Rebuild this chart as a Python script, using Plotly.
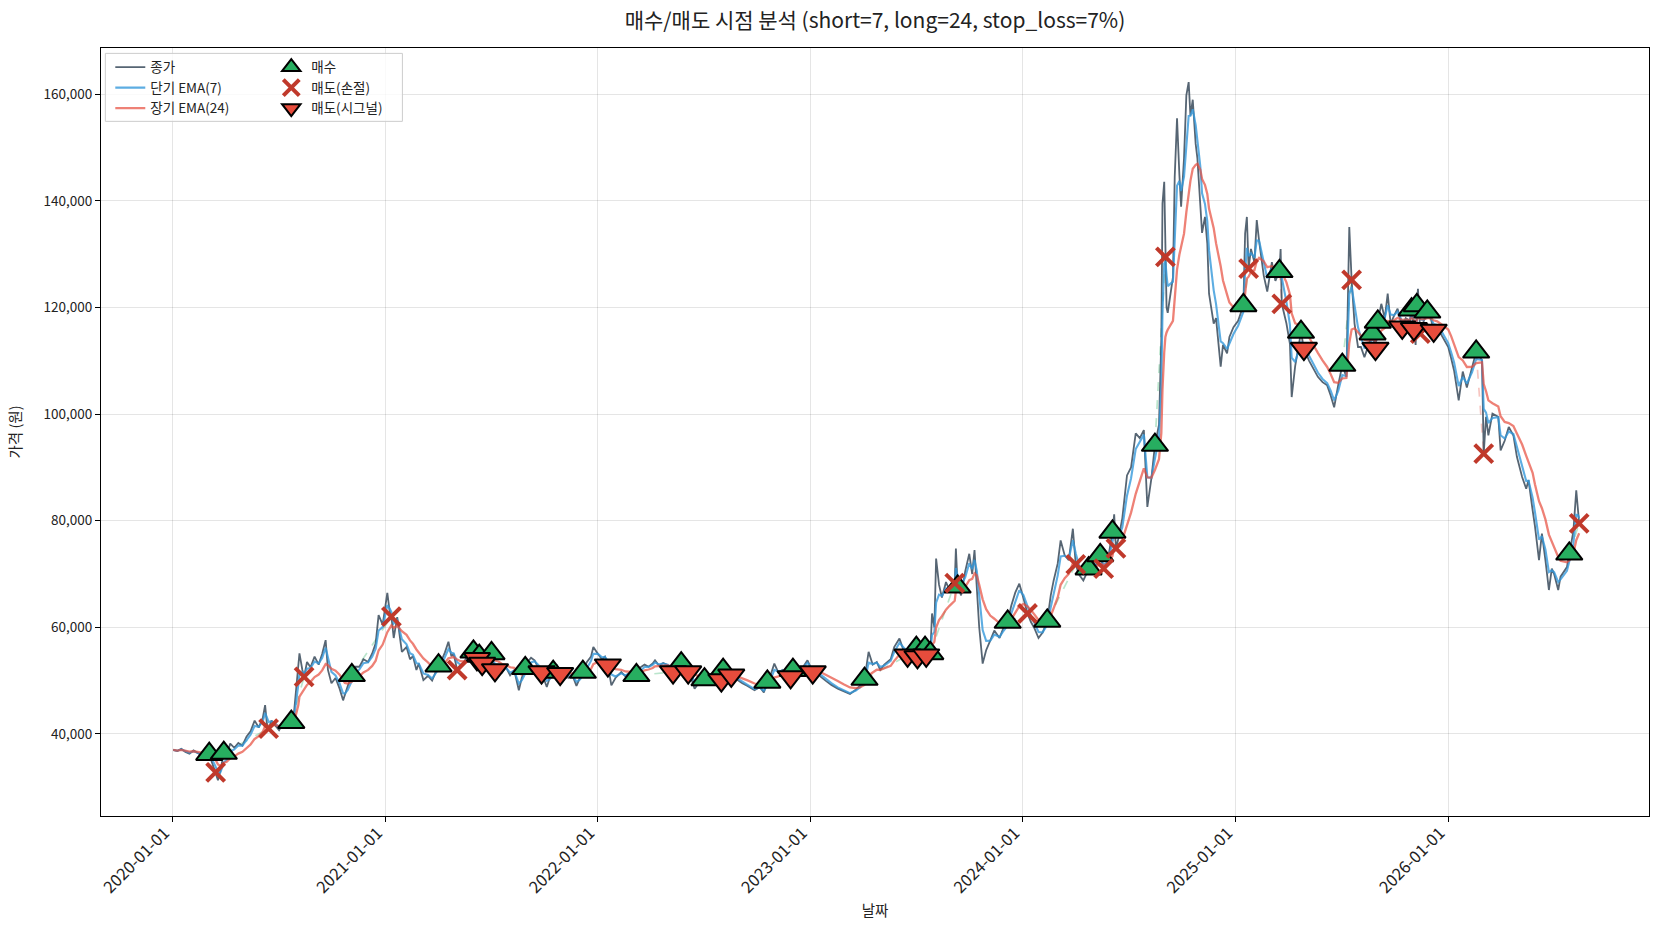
import pandas as pd
import plotly.graph_objects as go

# ---------------- data ----------------
close_dates = [
    "2020-01-02","2020-01-09","2020-01-16","2020-01-23","2020-01-30","2020-02-06","2020-02-13","2020-02-20",
    "2020-02-27","2020-03-04","2020-03-09","2020-03-15","2020-03-19","2020-03-23","2020-03-26","2020-03-29",
    "2020-04-03","2020-04-09","2020-04-16","2020-04-23","2020-04-30","2020-05-07","2020-05-14","2020-05-21",
    "2020-05-28","2020-06-04","2020-06-08","2020-06-11","2020-06-14","2020-06-19","2020-06-26","2020-07-02",
    "2020-07-09","2020-07-16","2020-07-23","2020-07-28","2020-07-31","2020-08-04","2020-08-06","2020-08-11",
    "2020-08-14","2020-08-19","2020-08-25","2020-09-01","2020-09-08","2020-09-14","2020-09-20","2020-09-24",
    "2020-09-30","2020-10-07","2020-10-14","2020-10-20","2020-10-23","2020-10-28","2020-11-04","2020-11-10",
    "2020-11-17","2020-11-24","2020-12-02","2020-12-09","2020-12-15","2020-12-20","2020-12-27","2021-01-04",
    "2021-01-08","2021-01-11","2021-01-15","2021-01-21","2021-01-29","2021-02-06","2021-02-12","2021-02-17",
    "2021-02-23","2021-02-27","2021-03-07","2021-03-15","2021-03-22","2021-03-28","2021-04-02","2021-04-08",
    "2021-04-13","2021-04-19","2021-04-24","2021-04-28","2021-05-04","2021-05-10","2021-05-16","2021-05-23",
    "2021-06-01","2021-06-07","2021-06-11","2021-06-16","2021-06-22","2021-07-02","2021-07-08","2021-07-14",
    "2021-07-20","2021-07-27","2021-08-03","2021-08-10","2021-08-18","2021-08-23","2021-08-29","2021-09-02",
    "2021-09-08","2021-09-14","2021-09-20","2021-09-26","2021-10-05","2021-10-10","2021-10-16","2021-10-22",
    "2021-10-28","2021-11-04","2021-11-11","2021-11-18","2021-11-25","2021-12-01","2021-12-06","2021-12-13",
    "2021-12-20","2021-12-24","2022-01-01","2022-01-08","2022-01-13","2022-01-18","2022-01-24","2022-01-31",
    "2022-02-10","2022-02-17","2022-02-24","2022-03-02","2022-03-08","2022-03-15","2022-03-22","2022-03-29",
    "2022-04-05","2022-04-09","2022-04-16","2022-04-23","2022-05-01","2022-05-10","2022-05-17","2022-05-24",
    "2022-05-30","2022-06-05","2022-06-10","2022-06-16","2022-06-23","2022-07-03","2022-07-10","2022-07-18",
    "2022-07-25","2022-08-01","2022-08-04","2022-08-10","2022-08-18","2022-08-28","2022-09-06","2022-09-15",
    "2022-09-27","2022-10-06","2022-10-13","2022-10-19","2022-10-26","2022-10-31","2022-11-07","2022-11-14",
    "2022-11-21","2022-11-28","2022-12-02","2022-12-09","2022-12-16","2022-12-27","2023-01-05","2023-01-12",
    "2023-01-19","2023-01-27","2023-02-06","2023-02-17","2023-02-27","2023-03-10","2023-03-20","2023-03-27",
    "2023-04-04","2023-04-11","2023-04-18","2023-04-25","2023-05-01","2023-05-08","2023-05-19","2023-05-25",
    "2023-06-03","2023-06-09","2023-06-17","2023-06-24","2023-07-02","2023-07-04","2023-07-10","2023-07-17",
    "2023-07-19","2023-07-26","2023-07-29","2023-08-02","2023-08-05","2023-08-10","2023-08-15","2023-08-22",
    "2023-08-28","2023-09-06","2023-09-08","2023-09-11","2023-09-17","2023-09-24","2023-10-01","2023-10-06",
    "2023-10-10","2023-10-14","2023-10-18","2023-10-24","2023-10-30","2023-11-06","2023-11-13","2023-11-22",
    "2023-11-29","2023-12-06","2023-12-12","2023-12-19","2023-12-26","2024-01-02","2024-01-09","2024-01-15",
    "2024-01-21","2024-01-28","2024-02-04","2024-02-12","2024-02-18","2024-02-23","2024-03-01","2024-03-06",
    "2024-03-13","2024-03-20","2024-03-27","2024-04-01","2024-04-06","2024-04-14","2024-04-23","2024-04-30",
    "2024-05-05","2024-05-13","2024-05-19","2024-05-26","2024-06-03","2024-06-06","2024-06-09","2024-06-14",
    "2024-06-20","2024-06-28","2024-07-05","2024-07-13","2024-07-20","2024-07-27","2024-08-02","2024-08-09",
    "2024-08-15","2024-08-22","2024-08-26","2024-08-28","2024-08-31","2024-09-02","2024-09-04","2024-09-06",
    "2024-09-15","2024-09-18","2024-09-22","2024-09-26","2024-09-29","2024-10-04","2024-10-08","2024-10-12",
    "2024-10-15","2024-10-19","2024-10-24","2024-10-27","2024-11-01","2024-11-04","2024-11-09","2024-11-13",
    "2024-11-16","2024-11-24","2024-11-28","2024-12-06","2024-12-10","2024-12-17","2024-12-21","2024-12-28",
    "2025-01-05","2025-01-14","2025-01-17","2025-01-20","2025-01-23","2025-01-27","2025-02-02","2025-02-06",
    "2025-02-10","2025-02-18","2025-02-24","2025-03-04","2025-03-10","2025-03-17","2025-03-19","2025-03-21",
    "2025-03-29","2025-04-04","2025-04-07","2025-04-13","2025-04-23","2025-04-28","2025-05-07","2025-05-14",
    "2025-05-22","2025-05-30","2025-06-07","2025-06-13","2025-06-19","2025-06-26","2025-07-03","2025-07-10",
    "2025-07-15","2025-07-19","2025-07-24","2025-07-30","2025-08-04","2025-08-10","2025-08-17","2025-08-24",
    "2025-08-29","2025-09-02","2025-09-08","2025-09-14","2025-09-19","2025-09-24","2025-09-30","2025-10-06",
    "2025-10-14","2025-10-20","2025-10-27","2025-10-30","2025-11-03","2025-11-06","2025-11-08","2025-11-10",
    "2025-11-14","2025-11-20","2025-11-26","2025-12-02","2025-12-07","2025-12-13","2025-12-19","2026-01-01",
    "2026-01-06","2026-01-11","2026-01-19","2026-01-26","2026-02-02","2026-02-11","2026-02-18","2026-02-28",
    "2026-03-03","2026-03-07","2026-03-11","2026-03-18","2026-03-28","2026-04-01","2026-04-08","2026-04-15",
    "2026-04-23","2026-04-29","2026-05-08","2026-05-15","2026-05-19","2026-05-26","2026-05-30","2026-06-06",
    "2026-06-11","2026-06-17","2026-06-23","2026-06-28","2026-07-02","2026-07-09","2026-07-13","2026-07-24",
    "2026-07-28","2026-08-04","2026-08-09","2026-08-12","2026-08-14",
]
close_values = [
    37000,36800,37200,36600,36300,36900,36400,36000,
    35500,36200,34500,32800,31300,33000,34800,36400,
    35800,38200,37400,38300,37800,39500,40500,42500,
    41200,43000,45400,42000,41000,42500,41500,40700,
    42000,41500,42200,44400,48000,53800,55100,52000,
    50700,53500,52500,54500,53000,55000,57600,52000,
    49500,50500,48500,46300,47500,49000,51000,52600,
    52600,54000,53500,55100,57000,62300,60500,66450,
    63000,62000,58000,61900,55400,56300,54000,54600,
    52000,53200,50100,50900,50000,51800,52900,54000,
    55300,57300,54600,55000,52000,52500,53400,55100,
    55400,54100,54600,53200,54000,55100,52000,53000,
    51500,52500,51000,52000,48200,50500,52300,53500,
    54300,53800,52500,51600,48800,50500,51600,53000,
    51300,52000,50500,51000,49000,50500,51600,53500,
    54500,56300,55000,54000,54500,52900,49100,50500,
    51600,50800,51500,50500,51000,52500,53000,52600,
    53200,53800,52800,53300,52900,51600,52500,53200,
    52500,51600,50500,48500,49500,50200,50800,51500,
    50800,50100,51950,51500,51000,50100,49500,49000,
    48200,48800,47800,49750,51500,53200,51500,52000,
    51200,50700,51950,52500,52000,53800,51600,51500,
    50700,50000,49200,48500,48000,47500,48300,49000,
    50300,55400,53000,53500,52000,53000,54000,56300,
    57900,56000,54800,55500,56100,54450,55500,56100,
    54760,55100,62600,60000,72900,68000,65600,68500,
    67000,68300,74800,67600,66000,70500,73800,70000,
    74500,68000,60100,53200,55700,57500,59400,58000,
    60000,61000,64000,66500,68200,65500,62600,61000,
    59800,58000,59000,61200,66000,68800,72000,76300,
    73500,72600,78500,71800,70000,68800,71000,72500,
    71500,73500,71000,72500,77900,81200,74800,77000,
    80500,88500,90000,96400,95500,97000,82600,88000,
    94200,98000,114000,139500,143600,129500,120000,119000,
    125700,144500,155500,145000,138900,148000,159800,162300,
    156000,159000,150700,148000,140000,134000,137000,132000,
    122600,117000,118000,108900,113000,111400,114500,116300,
    117500,120400,133900,137000,127300,131000,128500,136400,
    132500,126000,123000,128500,125000,126800,131000,120700,
    117000,113200,103200,109000,115400,112300,110000,108500,
    107000,106000,105400,103500,101300,105500,109200,107000,
    135100,125200,117000,112600,112600,110700,113000,115100,
    112300,117300,120700,118000,122600,117000,118500,119800,
    116300,118000,117500,119600,116000,113000,120400,123500,
    115100,117500,119200,118000,115700,116500,115100,112600,
    110500,108200,102600,108000,105000,108900,111700,110100,
    92600,99500,96000,100100,99500,93200,95000,97600,
    96000,92000,88200,86000,87600,82000,79000,72600,
    77600,72600,67000,71000,70000,67000,69500,71300,
    73800,78000,85700,81000,79500,
]

buy_dates = [
    "2020-03-04","2020-03-29","2020-07-23","2020-11-04","2021-04-02","2021-06-01","2021-06-11","2021-07-02",
    "2021-08-29","2021-10-16","2021-12-06","2022-03-08","2022-05-24","2022-07-03","2022-08-04","2022-10-19",
    "2022-12-02","2023-04-04","2023-07-02","2023-07-17","2023-07-26","2023-09-11","2023-12-06","2024-02-12",
    "2024-04-23","2024-05-13","2024-06-03","2024-08-15","2025-01-14","2025-03-17","2025-04-23","2025-07-03",
    "2025-08-24","2025-09-02","2025-10-30","2025-11-08","2025-11-26","2026-02-18","2026-07-28",
]
buy_prices = [
    36200,36400,42200,51000,52800,55400,54600,55100,
    52300,51600,51600,51000,53200,50200,51950,49750,
    51950,50300,56100,56100,55100,67600,61000,61200,
    71000,73500,77900,94200,120400,126800,115400,109200,
    115100,117300,119600,120400,119200,111700,73800,
]

stop_dates = [
    "2020-03-15","2020-06-14","2020-08-14","2021-01-11","2021-05-04","2023-09-06","2024-01-09","2024-04-01",
    "2024-05-19","2024-06-09","2024-09-02","2025-01-23","2025-03-21","2025-07-19","2025-11-14","2026-03-03",
    "2026-08-14",
]
stop_prices = [
    32800,41000,50700,62000,52000,68300,62600,71800,
    71000,74800,129500,127300,120700,125200,115100,92600,
    79500,
]

signal_dates = [
    "2021-06-07","2021-06-16","2021-07-08","2021-09-26","2021-10-28","2022-01-18","2022-05-10","2022-06-05",
    "2022-08-01","2022-08-18","2022-11-28","2023-01-05","2023-06-17","2023-07-04","2023-07-19","2025-04-28",
    "2025-08-29","2025-10-14","2025-11-03","2025-12-07",
]
signal_prices = [
    54100,53200,52000,51600,51300,52900,51600,51600,
    50100,51000,50700,51600,54760,54450,54760,112300,
    112300,116300,116000,115700,
]

title_text = "매수/매도 시점 분석 (short=7, long=24, stop_loss=7%)"
year_ticks = ["2020-01-01","2021-01-01","2022-01-01","2023-01-01","2024-01-01","2025-01-01","2026-01-01"]
price_ticks = [40000, 60000, 80000, 100000, 120000, 140000, 160000]

# ---------------- derived series ----------------
dates = pd.to_datetime(close_dates)
close = pd.Series(close_values, index=dates, dtype=float)
ema_short = close.ewm(halflife=pd.Timedelta(days=5.0), times=dates).mean()
ema_long = close.ewm(halflife=pd.Timedelta(days=17.0), times=dates).mean()

# pair each buy with the next sell (stop or signal)
events = [(pd.Timestamp(d), "buy", p) for d, p in zip(buy_dates, buy_prices)]
events += [(pd.Timestamp(d), "sell", p) for d, p in zip(stop_dates, stop_prices)]
events += [(pd.Timestamp(d), "sell", p) for d, p in zip(signal_dates, signal_prices)]
events.sort(key=lambda e: e[0])
win_x, win_y, loss_x, loss_y = [], [], [], []
for i, ev in enumerate(events):
    if ev[1] == "buy" and i + 1 < len(events) and events[i + 1][1] == "sell":
        nx = events[i + 1]
        if nx[2] >= ev[2]:
            win_x += [ev[0], nx[0], None]; win_y += [ev[2], nx[2], None]
        else:
            loss_x += [ev[0], nx[0], None]; loss_y += [ev[2], nx[2], None]

FONT = "Noto Sans CJK KR, Noto Sans, sans-serif"

fig = go.Figure()
fig.add_trace(go.Scatter(x=win_x, y=win_y, mode="lines", showlegend=False, hoverinfo="skip",
                         line=dict(color="rgba(39,174,96,0.32)", width=1.7, dash="dash")))
fig.add_trace(go.Scatter(x=loss_x, y=loss_y, mode="lines", showlegend=False, hoverinfo="skip",
                         line=dict(color="rgba(231,76,60,0.32)", width=1.7, dash="dash")))

fig.add_trace(go.Scatter(x=dates, y=close.values, mode="lines", name="종가", legend="legend",
                         line=dict(color="rgba(44,62,80,0.8)", width=1.8)))
fig.add_trace(go.Scatter(x=dates, y=ema_short.values, mode="lines", name="단기 EMA(7)", legend="legend",
                         line=dict(color="rgba(52,152,219,0.8)", width=2.1)))
fig.add_trace(go.Scatter(x=dates, y=ema_long.values, mode="lines", name="장기 EMA(24)", legend="legend",
                         line=dict(color="rgba(231,76,60,0.7)", width=2.3)))

fig.add_trace(go.Scatter(x=pd.to_datetime(buy_dates), y=buy_prices, mode="markers", name="매수", legend="legend2",
                         marker=dict(symbol="triangle-up", size=23, color="#27ae60",
                                     line=dict(color="black", width=2))))
fig.add_trace(go.Scatter(x=pd.to_datetime(stop_dates), y=stop_prices, mode="markers", name="매도(손절)", legend="legend2",
                         marker=dict(symbol="x-thin", size=18, color="#c0392b",
                                     line=dict(color="#c0392b", width=4))))
fig.add_trace(go.Scatter(x=pd.to_datetime(signal_dates), y=signal_prices, mode="markers", name="매도(시그널)", legend="legend2",
                         marker=dict(symbol="triangle-down", size=23, color="#e74c3c",
                                     line=dict(color="black", width=2))))

axis_common = dict(showline=True, linecolor="black", linewidth=1, mirror=True,
                   ticks="outside", ticklen=5, tickwidth=1, tickcolor="black",
                   showgrid=True, gridcolor="rgba(0,0,0,0.1)", gridwidth=1, zeroline=False)

fig.update_layout(
    width=1660, height=930,
    margin=dict(l=101, r=11, t=48, b=114),
    paper_bgcolor="white", plot_bgcolor="white",
    font=dict(family=FONT, color="#222"),
    title=dict(text=title_text, xref="paper", x=0.5, xanchor="center", y=0.978, yanchor="middle",
               font=dict(family=FONT, size=21, color="#222")),
    xaxis=dict(type="date", range=["2019-08-31", "2026-12-12"],
               tickvals=year_ticks, ticktext=year_ticks, tickangle=-45,
               tickfont=dict(family=FONT, size=16.5, color="#222"),
               ticklabelshift=-8, ticklabelstandoff=-5,
               title=dict(text="날짜", standoff=9, font=dict(family=FONT, size=14.5)),
               **axis_common),
    yaxis=dict(range=[24600, 168700], tickvals=price_ticks, tickformat=",d",
               tickfont=dict(family=FONT, size=13.5, color="#222"),
               title=dict(text="가격 (원)", standoff=18, font=dict(family=FONT, size=14.5)),
               **axis_common),
    legend=dict(x=0.006, y=0.995, xanchor="left", yanchor="top", bgcolor="rgba(0,0,0,0)",
                borderwidth=0, font=dict(family=FONT, size=13.5), tracegroupgap=0),
    legend2=dict(x=0.110, y=0.995, xanchor="left", yanchor="top", bgcolor="rgba(0,0,0,0)",
                 borderwidth=0, font=dict(family=FONT, size=13.5), tracegroupgap=0),
    shapes=[dict(type="rect", xref="paper", yref="paper", x0=0.0028, x1=0.1947, y0=0.9045, y1=0.993,
                 line=dict(color="#cccccc", width=1), fillcolor="rgba(255,255,255,0.8)", layer="above")],
)

fig.write_html("out.html", config={"displayModeBar": False},
               post_script="document.body.style.margin='0px';document.body.style.overflow='hidden';")
